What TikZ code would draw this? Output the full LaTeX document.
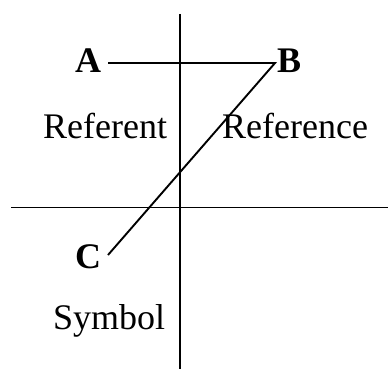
\documentclass[tikz,border=0pt]{standalone}
\usepackage{fontspec}
\setmainfont{Liberation Serif}
\begin{document}
\begin{tikzpicture}[x=1pt,y=-1pt,
  lbl/.style={anchor=base west,inner sep=0pt,font=\fontsize{36}{40}\selectfont},
  blbl/.style={lbl,font=\fontsize{36}{40}\selectfont\bfseries},
  ln/.style={line width=1.9pt,line cap=butt}]
\useasboundingbox (0,0) rectangle (388,369);
% axes
\coordinate (vt) at (180,14);
\coordinate (vb) at (180,369);
\coordinate (hl) at (11,207.5);
\coordinate (hr) at (388,207.5);
\draw[ln] (vt) -- (vb);
\draw[ln] (hl) -- (hr);
% labels
\node[blbl] (A) at (75,73) {A};
\node[blbl] (B) at (277,73) {B};
\node[blbl] (C) at (75,268) {C};
\node[lbl] (ref) at (43,138) {Referent};
\node[lbl] (rce) at (222,138) {Reference};
\node[lbl] (sym) at (53,329) {Symbol};
% connectors
\coordinate (a1) at (108,63);
\coordinate (b1) at (275,63);
\coordinate (c1) at (108,255);
\draw[ln,line join=miter] (a1) -- (b1) -- (c1);
\end{tikzpicture}
\end{document}
